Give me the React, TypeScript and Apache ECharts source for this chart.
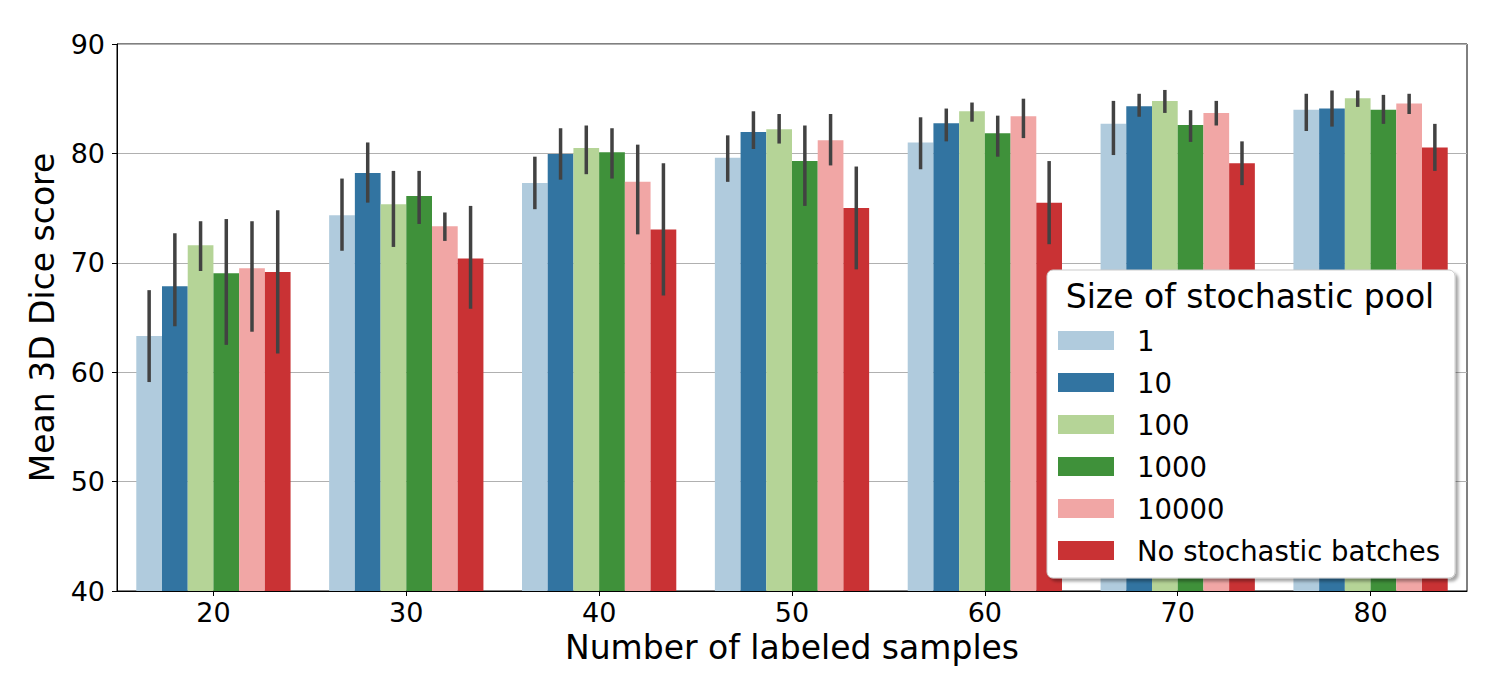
import React, { useEffect, useRef } from "react";
import * as echarts from "echarts";

const categories = ["20", "30", "40", "50", "60", "70", "80"];
const seriesNames = ["1", "10", "100", "1000", "10000", "No stochastic batches"];
const colors = ["#b0cbdd", "#3274a1", "#b5d497", "#3f913a", "#f1a6a5", "#c93234"];

const mean1 = [63.3, 74.35, 77.3, 79.6, 81.0, 82.7, 84.0];
const lo1 = [59.1, 71.1, 74.9, 77.4, 78.55, 79.85, 82.05];
const hi1 = [67.5, 77.7, 79.7, 81.65, 83.3, 84.8, 85.45];

const mean10 = [67.85, 78.2, 79.95, 81.95, 82.75, 84.3, 84.1];
const lo10 = [64.2, 75.5, 77.6, 80.4, 81.1, 83.35, 82.45];
const hi10 = [72.7, 81.0, 82.3, 83.85, 84.1, 85.45, 85.75];

const mean100 = [71.6, 75.35, 80.5, 82.2, 83.85, 84.8, 85.05];
const lo100 = [69.25, 71.45, 78.1, 80.9, 82.9, 83.7, 84.25];
const hi100 = [73.8, 78.4, 82.55, 83.6, 84.65, 85.8, 85.75];

const mean1000 = [69.05, 76.1, 80.1, 79.3, 81.85, 82.6, 84.0];
const lo1000 = [62.5, 73.55, 77.7, 75.2, 79.7, 81.05, 82.7];
const hi1000 = [74.0, 78.4, 82.3, 82.55, 83.45, 83.95, 85.35];

const mean10000 = [69.5, 73.35, 77.4, 81.2, 83.4, 83.7, 84.55];
const lo10000 = [63.7, 72.0, 72.6, 78.9, 81.4, 82.55, 83.6];
const hi10000 = [73.8, 74.6, 80.8, 83.6, 85.0, 84.8, 85.45];

const meanNone = [69.15, 70.4, 73.05, 75.0, 75.5, 79.1, 80.55];
const loNone = [61.7, 65.8, 67.0, 69.4, 71.7, 77.1, 78.4];
const hiNone = [74.8, 75.2, 79.1, 78.8, 79.3, 81.1, 82.7];

const means = [mean1, mean10, mean100, mean1000, mean10000, meanNone];
const lows = [lo1, lo10, lo100, lo1000, lo10000, loNone];
const highs = [hi1, hi10, hi100, hi1000, hi10000, hiNone];

const yTicks = [40, 50, 60, 70, 80, 90];

const FONT = "DejaVu Sans";

export default function App() {
  const ref = useRef<HTMLDivElement>(null);

  useEffect(() => {
    document.body.style.margin = "0";
    if (!ref.current) return;
    const chart = echarts.init(ref.current, undefined, { renderer: "svg" });

    const nSeries = seriesNames.length;
    const errData: number[][] = [];
    for (let s = 0; s < nSeries; s++) {
      for (let c = 0; c < categories.length; c++) {
        errData.push([c, s, lows[s][c], highs[s][c]]);
      }
    }

    const barSeries = seriesNames.map((name, i) => ({
      name,
      type: "bar",
      data: means[i],
      barGap: "0%",
      barCategoryGap: "20%",
      itemStyle: { color: colors[i] },
      z: 2,
    }));

    const errSeries = {
      type: "custom",
      z: 3,
      silent: true,
      data: errData,
      encode: { x: 0, y: [2, 3] },
      renderItem: (params: any, api: any) => {
        const cat = api.value(0);
        const s = api.value(1);
        const p1 = api.coord([cat, api.value(2)]);
        const p2 = api.coord([cat, api.value(3)]);
        const band = api.size([1, 0])[0];
        const bw = (band * 0.8) / nSeries;
        const x = p1[0] + (s - (nSeries - 1) / 2) * bw;
        return {
          type: "line",
          shape: { x1: x, y1: p1[1], x2: x, y2: p2[1] },
          style: { stroke: "#424242", lineWidth: 3.5 },
        };
      },
    };

    chart.setOption({
      animation: false,
      textStyle: { fontFamily: FONT },
      grid: {
        left: 117,
        right: 33,
        top: 44,
        bottom: 109,
        show: true,
        borderColor: "#000",
        borderWidth: 1,
        backgroundColor: "transparent",
      },
      legend: {
        data: seriesNames,
        orient: "vertical",
        left: 1058,
        top: 325.5,
        padding: 0,
        itemWidth: 56,
        itemHeight: 19,
        itemGap: 12,
        icon: "rect",
        z: 5,
        selectedMode: false,
        textStyle: {
          fontFamily: FONT,
          fontSize: 27.5,
          color: "#000",
          lineHeight: 30,
          padding: [0, 0, 0, 18],
        },
      },
      graphic: [
        {
          type: "rect",
          z: 4,
          shape: { x: 1047, y: 270, width: 408, height: 308, r: 6 },
          style: {
            fill: "#fff",
            stroke: "#cccccc",
            lineWidth: 1,
            shadowColor: "rgba(0,0,0,0.35)",
            shadowOffsetX: 3,
            shadowOffsetY: 3,
            shadowBlur: 3,
          },
        },
        {
          type: "text",
          z: 5,
          x: 1250,
          y: 296,
          style: {
            text: "Size of stochastic pool",
            fontFamily: FONT,
            fontSize: 33,
            fill: "#000",
            align: "center",
            verticalAlign: "middle",
          },
        },
      ],
      xAxis: {
        type: "category",
        data: categories,
        name: "Number of labeled samples",
        nameLocation: "middle",
        nameGap: 40,
        nameTextStyle: { fontFamily: FONT, fontSize: 33, color: "#000" },
        axisLine: { show: true, lineStyle: { color: "#000", width: 1 } },
        axisTick: { show: true, alignWithLabel: true, length: 5, lineStyle: { color: "#000" } },
        axisLabel: { fontFamily: FONT, fontSize: 27, color: "#000", margin: 8 },
        splitLine: { show: false },
      },
      yAxis: {
        type: "value",
        min: yTicks[0],
        max: yTicks[yTicks.length - 1],
        interval: 10,
        name: "Mean 3D Dice score",
        nameLocation: "middle",
        nameGap: 58,
        nameRotate: 90,
        nameTextStyle: { fontFamily: FONT, fontSize: 33, color: "#000" },
        axisLine: { show: true, lineStyle: { color: "#000", width: 1 } },
        axisTick: { show: true, length: 5, lineStyle: { color: "#000" } },
        axisLabel: { fontFamily: FONT, fontSize: 27, color: "#000", margin: 12 },
        splitLine: { show: true, lineStyle: { color: "#b0b0b0", width: 1 } },
      },
      series: [...barSeries, errSeries],
    });

    return () => {
      chart.dispose();
    };
  }, []);

  return <div ref={ref} style={{ width: 1500, height: 700 }} />;
}
